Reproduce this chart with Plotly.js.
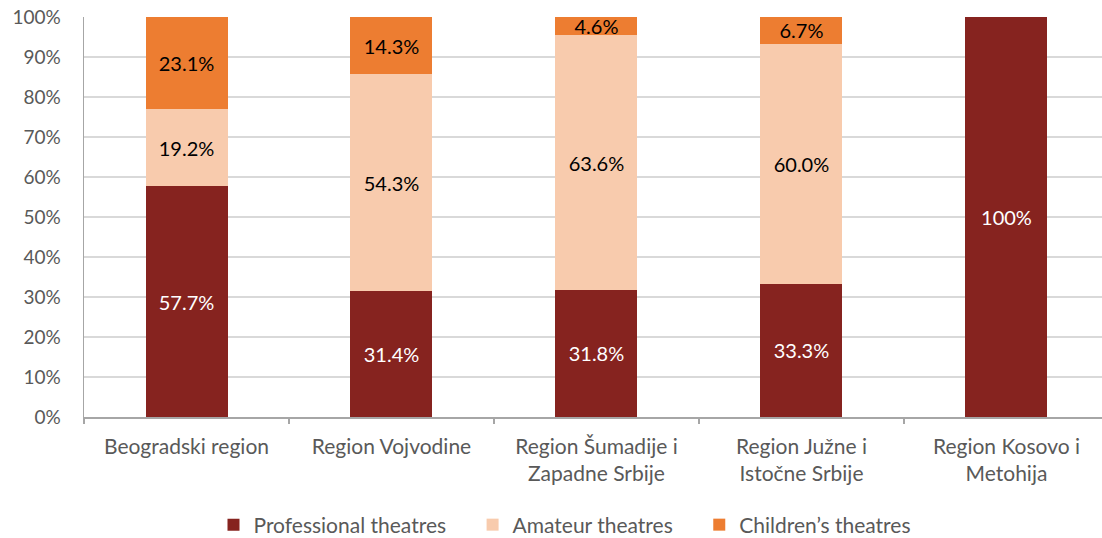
<!DOCTYPE html>
<html>
<head>
<meta charset="utf-8">
<script src="https://cdn.plot.ly/plotly-3.0.1.min.js"></script>
<style>html,body{margin:0;padding:0;background:#fff;}#chart{width:1102px;height:538px;}</style>
</head>
<body>
<div id="chart"></div>
<script>
const categories = ["Beogradski region", "Region Vojvodine", "Region Šumadije i<br>Zapadne Srbije", "Region Južne i<br>Istočne Srbije", "Region Kosovo i<br>Metohija"];
const professional = [57.7, 31.4, 31.8, 33.3, 100];
const amateur = [19.2, 54.3, 63.6, 60.0, 0];
const children = [23.1, 14.3, 4.6, 6.7, 0];
const seriesNames = ["Professional theatres", "Amateur theatres", "Children’s theatres"];
const yTickVals = [0,10,20,30,40,50,60,70,80,90,100];
const yTickText = ["0%","10%","20%","30%","40%","50%","60%","70%","80%","90%","100%"];

const FONT = "Lato, 'Open Sans', sans-serif";
const PAD = "\u00a0\u00a0\u00a0\u00a0";
function lbl(arr){ return arr.map(v => v === 0 ? "" : (v === 100 ? "100%" : v.toFixed(1) + "%")); }
function mk(name, vals, color, txtColor){
  return {type:"bar", name:name, x:categories, y:vals, marker:{color:color},
    text:lbl(vals), textposition:"inside", insidetextanchor:"middle", textangle:0, constraintext:"none",
    insidetextfont:{family:FONT, size:20, color:txtColor}, hoverinfo:"skip", cliponaxis:false};
}
const data = [
  mk(seriesNames[0] + PAD, professional, "#86231F", "#ffffff"),
  mk(seriesNames[1] + PAD, amateur, "#F8CBAD", "#000000"),
  mk(seriesNames[2], children, "#ED7D31", "#000000")
];
const layout = {
  width:1102, height:538, barmode:"stack", bargap:0.6,
  margin:{l:84, r:0, t:17, b:121, autoexpand:false},
  paper_bgcolor:"#fff", plot_bgcolor:"#fff",
  font:{family:FONT, size:20, color:"#595959"},
  showlegend:true,
  legend:{orientation:"h", x:0.472, xanchor:"center", y:-0.27, yanchor:"middle", font:{family:FONT, size:21, color:"#595959"}, traceorder:"normal", itemwidth:30},
  xaxis:{range:[-0.5, 4.466], automargin:false, showline:true, linecolor:"#a6a6a6", linewidth:1.5, ticks:"outside", tickson:"boundaries", ticklen:5, tickcolor:"#a6a6a6", tickwidth:1.5, tickfont:{family:FONT, size:21, color:"#595959"}, ticklabelstandoff:10, fixedrange:true},
  yaxis:{range:[0,100], automargin:false, tickvals:yTickVals, ticktext:yTickText, showgrid:true, gridcolor:"#d9d9d9", gridwidth:1.2, showline:true, linecolor:"#a6a6a6", linewidth:1.5, zeroline:false, ticks:"", tickfont:{family:FONT, size:19, color:"#595959"}, ticklabelstandoff:18}
};
Plotly.newPlot("chart", data, layout, {displayModeBar:false, staticPlot:true});
</script>
</body>
</html>
